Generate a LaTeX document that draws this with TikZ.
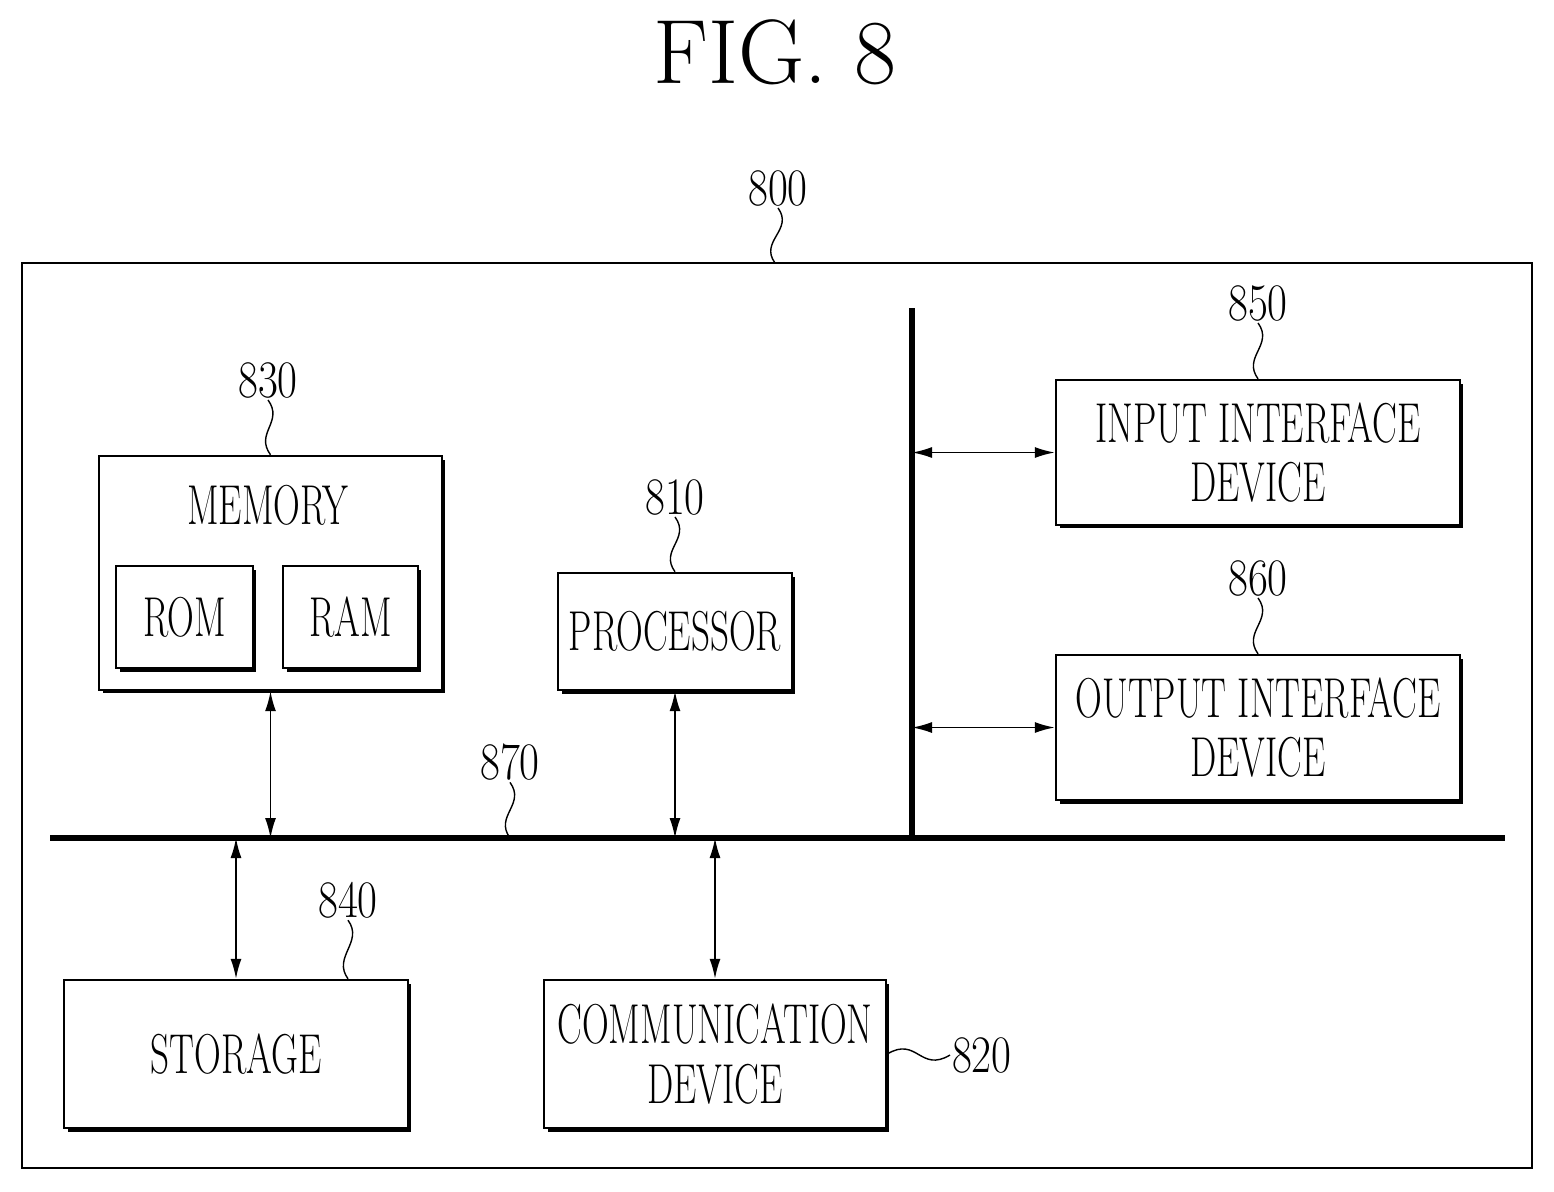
\documentclass[tikz,border=0pt]{standalone}
\usepackage{graphicx}
\usetikzlibrary{arrows.meta, positioning, shadows}
\tikzstyle{block} = [rectangle, draw=black, line width=1.4pt, fill=white, align=center, inner sep=0pt, drop shadow={shadow xshift=0.07cm, shadow yshift=-0.07cm, opacity=1, fill=black}]
\tikzstyle{arrow} = [{Latex[length=0.4cm,width=0.22cm]}-{Latex[length=0.4cm,width=0.22cm]}, line width=1pt]
\tikzstyle{refnum} = [inner sep=1pt, font=\fontsize{30}{32}\selectfont]
\tikzstyle{lead} = [line width=0.8pt]
\newcommand{\cond}[1]{\scalebox{0.66}[1]{#1}}
\newcommand{\numtxt}[1]{\scalebox{0.82}[1]{#1}}
\begin{document}
\begin{tikzpicture}[x=0.02cm, y=-0.02cm, font=\fontsize{32}{34}\selectfont]
    \useasboundingbox (0,0) rectangle (1554,1191);

    \node (title) at (775,52) {\fontsize{52}{56}\selectfont FIG. 8};

    % outer frame
    \draw [line width=1.4pt] (22,263) rectangle (1532,1168);
    \coordinate (frametop) at (775,263);
    \node (n800) [refnum] at (778,188) {\numtxt{800}};
    \draw [lead] (n800.south) .. controls +(16,22) and +(-16,-22) .. (frametop);

    % memory
    \node (mem) [block, minimum width=6.86cm, minimum height=4.68cm] at (270.5,573) {};
    \node (memtxt) at (268,505) {\cond{MEMORY}};
    \node (rom) [block, minimum width=2.74cm, minimum height=2.04cm] at (184.5,617) {\cond{ROM}};
    \node (ram) [block, minimum width=2.7cm, minimum height=2.04cm] at (350.5,617) {\cond{RAM}};
    \node (n830) [refnum] at (268,380) {\numtxt{830}};
    \draw [lead] (n830.south) .. controls +(16,22) and +(-16,-22) .. (mem.north);

    % processor
    \node (proc) [block, minimum width=4.68cm, minimum height=2.34cm] at (675,631.5) {\cond{PROCESSOR}};
    \node (n810) [refnum] at (675,497) {\numtxt{810}};
    \draw [lead] (n810.south) .. controls +(16,22) and +(-16,-22) .. (proc.north);

    % interface devices
    \node (inp) [block, minimum width=8.08cm, minimum height=2.9cm] at (1258,452.5) {\cond{INPUT INTERFACE}\\[0pt]\cond{DEVICE}};
    \node (n850) [refnum] at (1258,303) {\numtxt{850}};
    \draw [lead] (n850.south) .. controls +(16,22) and +(-16,-22) .. (inp.north);
    \node (outp) [block, minimum width=8.08cm, minimum height=2.9cm] at (1258,727.5) {\cond{OUTPUT INTERFACE}\\[0pt]\cond{DEVICE}};
    \node (n860) [refnum] at (1258,578) {\numtxt{860}};
    \draw [lead] (n860.south) .. controls +(16,22) and +(-16,-22) .. (outp.north);

    % storage and communication
    \node (stor) [block, minimum width=6.88cm, minimum height=2.96cm] at (236,1054) {\cond{STORAGE}};
    \node (n840) [refnum] at (348,900) {\numtxt{840}};
    \draw [lead] (n840.south) .. controls +(16,22) and +(-16,-22) .. (stor.north -| n840.south);
    \node (comm) [block, minimum width=6.84cm, minimum height=2.96cm] at (715,1054) {\cond{COMMUNICATION}\\[0pt]\cond{DEVICE}};
    \node (n820) [refnum, anchor=west] at (950,1055) {\numtxt{820}};
    \draw [lead] (comm.east) .. controls +(30,-18) and +(-30,18) .. (n820.west);

    % buses
    \coordinate (busL) at (50,838);
    \coordinate (busR) at (1505,838);
    \coordinate (vbusT) at (912,308);
    \coordinate (vbusB) at (912,838);
    \draw [line width=3pt] (busL) -- (busR);
    \draw [line width=3pt] (vbusT) -- (vbusB);
    \node (n870) [refnum] at (510,762) {\numtxt{870}};
    \draw [lead] (n870.south) .. controls +(16,22) and +(-16,-22) .. (n870.south |- busL);

    \draw [arrow] (mem.south) -- (mem.south |- busL);
    \draw [arrow] (proc.south) -- (proc.south |- busL);
    \draw [arrow] (stor.north |- busL) -- (stor.north);
    \draw [arrow] (comm.north |- busL) -- (comm.north);
    \draw [arrow] (inp.west -| vbusT) -- (inp.west);
    \draw [arrow] (outp.west -| vbusT) -- (outp.west);

\end{tikzpicture}
\end{document}
